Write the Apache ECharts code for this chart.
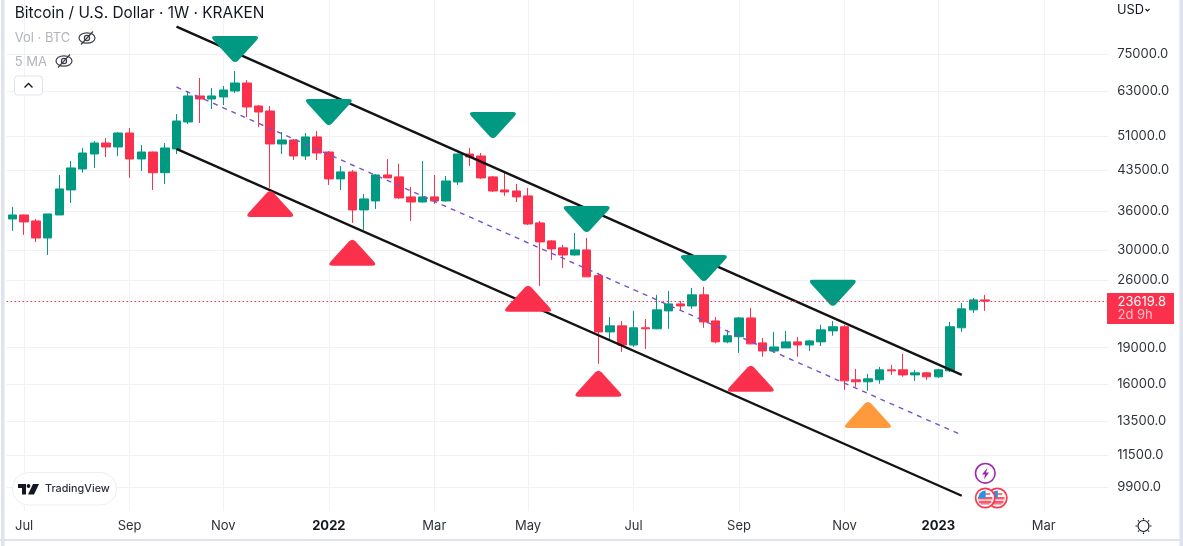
<!DOCTYPE html>
<html><head><meta charset="utf-8">
<style>html,body{margin:0;padding:0;background:#fff}#c{width:1183px;height:546px}</style>
<script src="https://cdn.jsdelivr.net/npm/echarts@6/dist/echarts.min.js"></script>
</head><body><div id="c"></div>
<script>
const opens = [34670,35320,34350,31720,35320,39700,43790,46960,49440,48530,51800,45880,47400,43030,48080,54540,61590,60720,61300,63040,65430,58770,57410,49210,50140,46530,50850,47400,41800,43190,36160,37710,42580,42200,38430,37530,38430,37710,41210,46960,46530,42200,39700,39510,38610,34030,31290,30290,29300,30000,26600,20450,21040,19240,20850,20750,22560,23310,23090,24320,21530,19520,20000,21830,19430,18710,18980,19520,19240,19520,20550,20950,16350,16200,16350,17130,17130,16730,16890,16580,17050,20850,22670,23750];
const closes = [35320,34190,31720,35490,39890,44000,47180,49440,48530,51800,45880,47400,43030,48300,54790,61590,60720,61590,63330,65430,58500,57140,49210,50140,46530,50850,47180,41800,43190,36160,38070,42580,42000,38250,37530,38430,37710,41400,46960,46300,42000,39510,39330,38430,33860,31140,30140,29300,30000,26450,20450,21040,19240,20850,20750,22670,23310,23090,24320,21430,19520,20090,21830,19340,18710,19060,19520,19240,19610,20650,20950,16270,16200,16430,17130,17050,16730,16890,16580,17130,20950,22780,23750,23619.8];
const lows = [32790,32180,31140,29300,35320,37360,43030,44000,46300,46530,42000,43390,39700,40830,46960,54030,54280,57950,59040,62430,55780,53240,40080,46960,45670,45670,45670,40640,39700,34030,32940,36330,42000,38070,34350,37400,37190,37600,40640,44410,41800,39330,38610,37530,33700,25360,28630,27580,29200,26450,17620,19700,18630,19060,18890,20700,20750,22560,22780,20850,19400,19400,18540,19300,18210,18540,18980,18210,18710,19150,20090,15600,15820,15530,16050,16730,16580,16270,16350,16500,16950,20450,22350,22560];
const highs = [36670,35400,34670,35490,42580,45450,48300,49900,50610,52050,53040,48980,47500,49440,56610,63040,67000,63930,64520,69200,66360,59040,58770,52050,50370,51800,52290,47620,44410,43590,38960,42780,45880,44880,40270,45450,42580,42380,47000,48300,47180,42380,43030,40830,40080,34350,31400,30720,32480,31730,26950,21930,21530,22560,21730,24320,24770,23640,25130,25250,21930,20650,21930,22880,19880,20440,20540,19980,19700,21140,21530,21140,17210,16810,17370,17530,18450,17130,16970,17210,21430,23420,23970,24320];
const lastPrice = 23619.8;
const priceTicks = [75000,63000,51000,43500,36000,30000,26000,19000,16000,13500,11500,9900];
const timeTickLabels = {1:'Jul',10:'Sep',18:'Nov',27:'2022',36:'Mar',44:'May',53:'Jul',62:'Sep',71:'Nov',79:'2023',88:'Mar'};
const upperChannel = [[14,85130],[81,16730]];
const lowerChannel = [[14,48080],[81,9512]];
const midChannel = [[14,64220],[81,12630]];
const sellMarks = [[19,76700],[27,57140],[41,53780],[49,34670],[59,27580],[70,24560]];
const buyMarks = [[22,37190],[29,29590],[44,23870],[50,16050],[63,16430]];
const pendingMarks = [[73,13870]];
const weekCount = 94;

const categories = [];
{ const d0 = Date.UTC(2021,5,28);
  for (let i=0;i<weekCount;i++) categories.push(new Date(d0+i*7*864e5).toISOString().slice(0,10)); }

const GREEN='#009a82', RED='#fb304c', GRID='#f0f2f7', BORDER='#e0e3eb', TXT='#2e323c', FONT='Inter';
const candles = opens.map((o,i)=>[o,closes[i],lows[i],highs[i]]);
const mapPts = a => a.map(p=>[categories[p[0]],p[1]]);
const triDown='path://M4 0H42Q47 0 44 4L26 24.500Q23 27.500 20 24.500L2 4Q-1 0 4 0Z';

function T(x,y,text,font,fill,align){return {type:'text',x,y,z:50,silent:true,style:{text,font,fill,align:align||'left',verticalAlign:'middle'}};}
function R(x,y,w,h,fill,r,stroke){return {type:'rect',z:49,silent:true,shape:{x,y,width:w,height:h,r:r||0},style:{fill,stroke:stroke||null,lineWidth:1}};}
function C(cx,cy,r,stroke,fill,lw,z){return {type:'circle',z:z||51,silent:true,shape:{cx,cy,r},style:{stroke,fill,lineWidth:lw}};}
function PL(points,stroke,lw,z){return {type:'polyline',z:z||51,silent:true,shape:{points},style:{stroke,lineWidth:lw,fill:null}};}
function PG(points,fill,z){return {type:'polygon',z:z||51,silent:true,shape:{points},style:{fill}};}
function eye(cx,cy){const s='#3a3e48';return [
  {type:'ellipse',z:51,silent:true,shape:{cx,cy,rx:8,ry:5.2},style:{stroke:s,lineWidth:1.2,fill:'#fff'}},
  C(cx,cy,2.6,s,'#fff',1.2,52),
  PL([[cx-6,cy+6.5],[cx+6,cy-6.5]],s,1.2,53)];}
function flag(cx,cy,z){
  const els=[C(cx,cy,9.6,'#f7384f','#fff',1.7,z)];
  [[-1,7.2],[3,6.2]].forEach(s=>{const e=R(cx-s[1],cy+s[0],s[1]*2,2.2,'#f7586b');e.z=z;els.push(e);});
  [[-5,5],[1,7.4],[5,4.4]].forEach(s=>{const e=R(cx-(s[0]===-5?0:s[1]),cy+s[0],s[0]===-5?s[1]:s[1]*2,s[0]===-5?2:1.6,s[0]===1?'#fbb4bd':'#f7788a');e.z=z;els.push(e);});
  els.push(PG([[cx-7.2,cy],[cx+0.5,cy],[cx+0.5,cy-7.4],[cx-2.5,cy-7],[cx-5.5,cy-4.8]],'#2f8fe0',z));
  return els;
}
const rays=[];
[[0,-8,0,-6.5],[0,6.5,0,8],[-8,0,-6.5,0],[6.5,0,8,0],[-5.6,-5.6,-4.6,-4.6],[5.6,5.6,4.6,4.6],[-5.6,5.6,-4.6,4.6],[5.6,-5.6,4.6,-4.6]]
  .forEach(r=>rays.push(PL([[1143.5+r[0],526+r[1]],[1143.5+r[2],526+r[3]]],'#131722',1.2)));
const graphics=[
  R(1,0,3.5,546,BORDER), R(1179.5,0,3.5,546,BORDER), R(0,539,1183,2,BORDER),
  T(14.7,13,'Bitcoin / U.S. Dollar · 1W · KRAKEN','400 15.4px '+FONT,'#131722'),
  T(14.7,38,'Vol · BTC','400 13px '+FONT,'#b2b5be'),
  ...eye(87,38),
  T(14.7,62,'5 MA','400 13px '+FONT,'#b2b5be'),
  ...eye(64,61),
  R(14.5,76,28,19,'#fff',3,BORDER),
  PL([[24.5,87.5],[28.5,83.5],[32.5,87.5]],'#131722',1.4),
  R(12.5,472.5,104,32.5,'#fff',16,'#eceef3'),
  PG([[18,484],[26,484],[26,494.5],[22,494.5],[22,488],[18,488]],'#131722'),
  C(28.5,486,1.9,'#131722','#131722',0),
  PG([[33,484],[39,484],[34,494.5],[28,494.5]],'#131722'),
  T(45,489,'TradingView','500 10.8px '+FONT,'#2a2e39'),
  T(1117,10.5,'USD','400 12.8px '+FONT,'#131722'),
  PL([[1145.5,9],[1147.5,11],[1149.5,9]],'#131722',1.1),
  R(1107,293,67,31,RED),
  T(1117.5,302,lastPrice.toFixed(1),'400 13px '+FONT,'#fff'),
  T(1117.5,315.5,'2d 9h','400 13px '+FONT,'#ffc0c8'),
  C(1143.5,526,5.5,'#131722','#fff',1.2),
  ...rays,
  ...flag(997.3,498,52), ...flag(985.2,498,53),
  C(985.3,473.3,9.8,'#9c27b0','#fff',1.6,54),
  PG([[987.5,467.5],[982,474.5],[985,474.5],[984,479.5],[989,472.5],[986,472.5]],'#9c27b0',55)
];

const chart=echarts.init(document.getElementById('c'),null,{renderer:'canvas'});
chart.setOption({
  animation:false,
  backgroundColor:'#fff',
  grid:{left:6.54,top:0,width:1101.68,height:511,containLabel:false},
  xAxis:{type:'category',data:categories,boundaryGap:true,
    axisLine:{show:false},axisTick:{show:false},
    axisLabel:{interval:i=>!!timeTickLabels[i],margin:9,fontFamily:FONT,fontSize:13,color:TXT,
      formatter:(v,i)=>{const s=timeTickLabels[i]||'';return /^20/.test(s)?'{b|'+s+'}':s;},
      rich:{b:{fontFamily:FONT,fontSize:13,fontWeight:700,color:'#131722'}}},
    splitLine:{show:true,alignWithLabel:true,interval:i=>!!timeTickLabels[i],lineStyle:{color:GRID,width:1}}},
  yAxis:{type:'log',logBase:10,position:'right',min:8858,max:96430,
    axisLine:{show:false},axisTick:{show:false,customValues:priceTicks},
    axisLabel:{customValues:priceTicks,margin:9,align:'left',fontFamily:FONT,fontSize:13,color:TXT,
      formatter:v=>Number(v).toFixed(1)},
    splitLine:{show:true,lineStyle:{color:GRID,width:1}}},
  series:[
    {type:'candlestick',data:candles,barWidth:9,z:2,
     itemStyle:{color:GREEN,color0:RED,borderColor:GREEN,borderColor0:RED,borderWidth:1},
     markLine:{silent:true,symbol:'none',label:{show:false},animation:false,
       lineStyle:{color:RED,type:[1.5,2.5],width:1},data:[{yAxis:lastPrice}]}},
    {type:'line',data:mapPts(midChannel),symbol:'none',z:3,lineStyle:{color:'#7a52c7',width:1.4,type:[5,5]}},
    {type:'line',data:mapPts(upperChannel),symbol:'none',z:3,lineStyle:{color:'#131313',width:2.4}},
    {type:'line',data:mapPts(lowerChannel),symbol:'none',z:3,lineStyle:{color:'#131313',width:2.4}},
    {type:'scatter',data:mapPts(sellMarks),symbol:triDown,symbolSize:[46,26],z:4,itemStyle:{color:GREEN,opacity:1}},
    {type:'scatter',data:mapPts(buyMarks),symbol:triDown,symbolRotate:180,symbolSize:[46,26],z:4,itemStyle:{color:RED,opacity:1}},
    {type:'scatter',data:mapPts(pendingMarks),symbol:triDown,symbolRotate:180,symbolSize:[46,26],z:4,itemStyle:{color:'#ff9a3c',opacity:1}}
  ],
  graphic:graphics
});
</script></body></html>
